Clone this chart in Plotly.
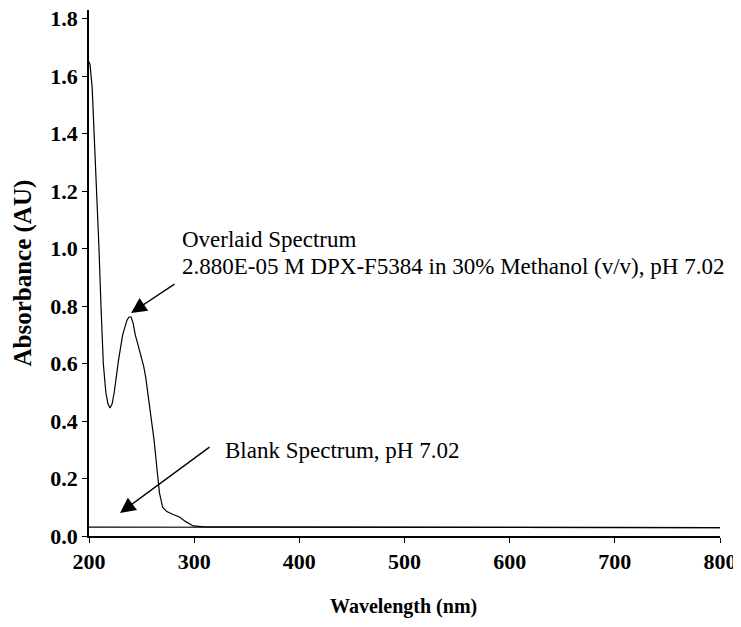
import plotly.graph_objects as go

# Overlaid spectrum (wavelength nm, absorbance AU)
wl_sample = [200, 201, 203, 205, 207.6, 209.5, 211.4, 213.6, 216, 218, 220, 222, 224, 226, 228,
             232, 236, 238, 240, 242, 244, 247, 250, 252, 254, 257, 260, 262, 265, 267, 270,
             274, 280, 286, 292, 299, 310, 400, 600, 800]
abs_sample = [1.65, 1.64, 1.56, 1.40, 1.20, 1.00, 0.80, 0.60, 0.50, 0.46, 0.445, 0.46, 0.50, 0.56, 0.61,
              0.70, 0.75, 0.762, 0.762, 0.74, 0.70, 0.66, 0.62, 0.59, 0.55, 0.47, 0.39, 0.33, 0.22, 0.15, 0.10,
              0.085, 0.075, 0.066, 0.05, 0.035, 0.032, 0.032, 0.030, 0.029]

# Blank spectrum
wl_blank = [200, 400, 600, 800]
abs_blank = [0.031, 0.031, 0.030, 0.029]

x_ticks = [200, 300, 400, 500, 600, 700, 800]
y_ticks = [0.0, 0.2, 0.4, 0.6, 0.8, 1.0, 1.2, 1.4, 1.6, 1.8]

FONT = "Liberation Serif"

fig = go.Figure()
fig.add_trace(go.Scatter(x=wl_blank, y=abs_blank, mode="lines",
                         line=dict(color="black", width=1.2), showlegend=False))
fig.add_trace(go.Scatter(x=wl_sample, y=abs_sample, mode="lines",
                         line=dict(color="black", width=1.2), showlegend=False))

fig.update_layout(
    width=741, height=627,
    margin=dict(l=81, r=29, t=2, b=99),
    paper_bgcolor="white", plot_bgcolor="white",
    font=dict(family=FONT, color="black"),
    xaxis=dict(range=[200, 800], tickvals=x_ticks, ticktext=[str(v) for v in x_ticks],
               showline=True, linecolor="black", linewidth=1.5, ticks="outside", ticklen=5,
               tickcolor="black", showgrid=False, zeroline=False, automargin=False,
               ticklabeloverflow="allow",
               tickfont=dict(size=22, weight="bold", family=FONT)),
    yaxis=dict(range=[0, 1.83], tickvals=y_ticks, ticktext=[f"{v:.1f}" for v in y_ticks],
               showline=True, linecolor="black", linewidth=1.5, ticks="outside", ticklen=5,
               tickcolor="black", showgrid=False, zeroline=False, automargin=False,
               ticklabeloverflow="allow",
               tickfont=dict(size=22, weight="bold", family=FONT)),
)

# axis titles
fig.add_annotation(x=0.499, y=0, xref="paper", yref="paper", yanchor="middle", yshift=-70,
                   text="Wavelength (nm)", showarrow=False,
                   font=dict(size=20, weight="bold", family=FONT))
fig.add_annotation(x=0, y=0.499, xref="paper", yref="paper", xanchor="center", xshift=-66,
                   text="Absorbance (AU)", showarrow=False, textangle=-90,
                   font=dict(size=25, weight="bold", family=FONT))

# arrows
fig.add_annotation(x=240, y=0.776, ax=282.7, ay=0.88, axref="x", ayref="y", xref="x", yref="y",
                   text="", showarrow=True, arrowhead=2, arrowsize=2.2, arrowwidth=1.4, arrowcolor="black")
fig.add_annotation(x=229.5, y=0.08, ax=316, ay=0.313, axref="x", ayref="y", xref="x", yref="y",
                   text="", showarrow=True, arrowhead=2, arrowsize=2.2, arrowwidth=1.4, arrowcolor="black")

# labels
fig.add_annotation(x=286.5, y=1.030, xref="x", yref="y", xanchor="left", yanchor="middle",
                   text="Overlaid Spectrum", showarrow=False, font=dict(size=23, family=FONT))
fig.add_annotation(x=286.5, y=0.936, xref="x", yref="y", xanchor="left", yanchor="middle",
                   text="2.880E-05 M DPX-F5384 in 30% Methanol (v/v), pH 7.02",
                   showarrow=False, font=dict(size=23, family=FONT))
fig.add_annotation(x=327, y=0.296, xref="x", yref="y", xanchor="left", yanchor="middle",
                   text="Blank Spectrum, pH 7.02",
                   showarrow=False, font=dict(size=23, family=FONT))

fig.write_html("out.html")
